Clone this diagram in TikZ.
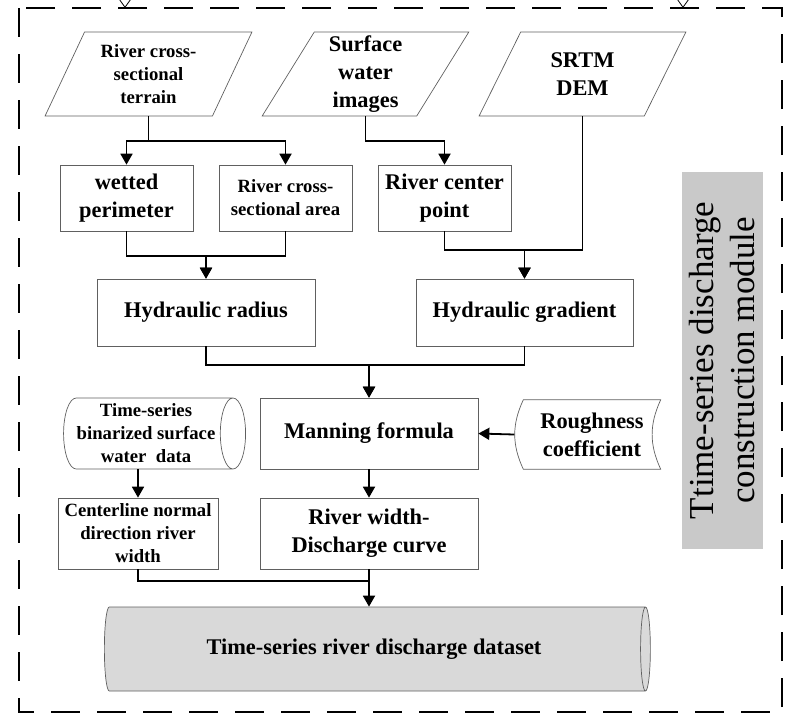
\documentclass[tikz,border=0pt]{standalone}
\usepackage{fontspec}
\setmainfont{Liberation Serif}
\usetikzlibrary{positioning, arrows.meta, shapes.geometric}

\tikzset{
  base/.style={draw=gray!75!black, line width=0.7pt, align=center, inner sep=2pt,
    font=\bfseries\fontsize{22.4}{28}\selectfont},
  small/.style={font=\bfseries\fontsize{18.7}{23}\selectfont},
  proc/.style={base, rectangle},
  data/.style={base, trapezium, trapezium left angle=64, trapezium right angle=116,
    trapezium stretches=true, minimum width=207pt, minimum height=84pt},
  store/.style={base, cylinder, aspect=0.4},
  flow/.style={line width=1.8pt, -{Triangle[length=11pt, width=12pt]}},
  link/.style={line width=1.8pt},
  frame/.style={line width=1.8pt, dash pattern=on 29pt off 17pt},
  module/.style={rectangle, fill=gray!42, rotate=90, minimum width=377pt,
    minimum height=81pt, align=center, font=\fontsize{35}{41}\selectfont}
}

\begin{document}
\begin{tikzpicture}[x=1pt, y=-1pt]
  \useasboundingbox (0,0) rectangle (795,721);
  \clip (0,0) rectangle (795,721);

  \draw[frame] (19,8) rectangle (782,712);
  % incoming arrows from the module above
  \coordinate (in1) at (125,-40);
  \coordinate (in2) at (683,-40);
  \draw[line width=0.8pt, -{Triangle[open, length=10pt, width=14pt]}] (in1) -- (125,8);
  \draw[line width=0.8pt, -{Triangle[open, length=10pt, width=14pt]}] (in2) -- (683,8);

  % inputs
  \node[data, small] (terrain) at (148.5,74) {River cross-\\sectional\\terrain};
  \node[data] (surface) at (365.5,74) {Surface\\water\\images};
  \node[data] (srtm) at (582.5,74) {SRTM\\DEM};

  \node[proc, minimum width=133pt, minimum height=66pt] (wetted) at (126.5,198) {wetted\\perimeter};
  \node[proc, small, minimum width=133pt, minimum height=66pt] (area) at (285.5,198) {River cross-\\sectional area};
  \node[proc, minimum width=133pt, minimum height=66pt] (center) at (444.5,198) {River center\\point};

  \node[proc, minimum width=218pt, minimum height=67pt] (radius) at (206,312.5) {Hydraulic radius};
  \node[proc, minimum width=217pt, minimum height=67pt] (gradient) at (524.5,312.5) {Hydraulic gradient};

  \node[proc, minimum width=218pt, minimum height=71pt] (manning) at (369,433.5) {Manning formula};
  \node[inner sep=0pt, minimum width=137pt, minimum height=69pt, align=center,
    font=\bfseries\fontsize{22.4}{28}\selectfont] (rough) at (592,434.5) {Roughness\\coefficient};
  \draw[draw=gray!75!black, line width=0.7pt] (rough.north west) -- (rough.north east)
    to[bend right=25] (rough.south east) -- (rough.south west) to[bend left=25] cycle;

  % cylinder: width is across, height along the axis
  \node[store, small, minimum width=71pt, minimum height=182pt] (binary) at (146,433.5)
    {Time-series\\binarized surface\\water~~data};
  \node[proc, small, minimum width=160pt, minimum height=71pt] (normal) at (138,533.5)
    {Centerline normal\\direction river\\width};
  \node[proc, minimum width=218pt, minimum height=71pt] (curve) at (369,533.5) {River width-\\Discharge curve};

  \node[store, fill=gray!30, minimum width=84pt, minimum height=546pt] (dataset) at (374,649)
    {Time-series river discharge dataset};

  \node[module] (mod) at (722.5,360.5) {Ttime-series discharge\\construction module};

  % connectors
  \draw[flow] (terrain.south) -- ++(0,25) -| (wetted.north);
  \draw[flow] (terrain.south) -- ++(0,25) -| (area.north);
  \draw[flow] (surface.south) -- ++(0,25) -| (center.north);

  \draw[flow] (wetted.south) |- ([yshift=23pt]radius.north) -- (radius.north);
  \draw[flow] (area.south) |- ([yshift=23pt]radius.north) -- (radius.north);
  \draw[flow] (center.south) |- ([yshift=29pt]gradient.north) -- (gradient.north);
  \draw[flow] (srtm.south) |- ([yshift=29pt]gradient.north) -- (gradient.north);

  \draw[flow] (radius.south) |- ([yshift=33pt]manning.north) -- (manning.north);
  \draw[flow] (gradient.south) |- ([yshift=33pt]manning.north) -- (manning.north);
  \draw[flow] ([xshift=-9pt]rough.west) -- (manning.east);

  \draw[flow] (normal.north |- binary.south) -- (normal.north);
  \draw[flow] (manning.south) -- (curve.north);
  \draw[flow] (normal.south) -- ++(0,12) -| (curve.south |- dataset.north);
  \draw[link] (curve.south) -- ++(0,12);
\end{tikzpicture}
\end{document}
